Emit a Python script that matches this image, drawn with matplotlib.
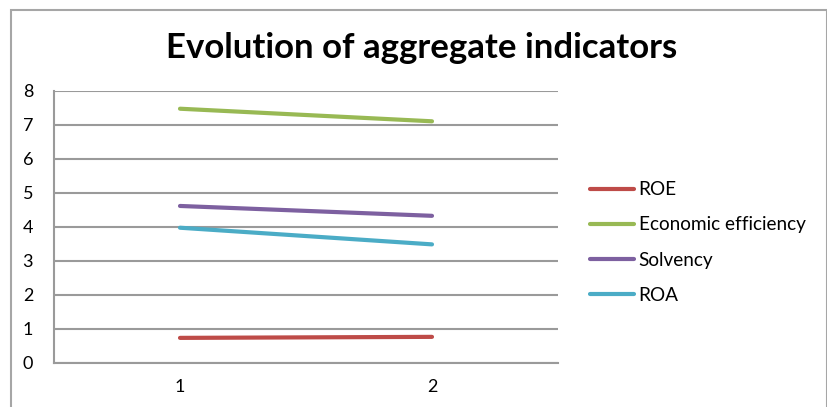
import matplotlib
matplotlib.use("Agg")
from matplotlib import pyplot as plt
from matplotlib.patches import Rectangle

# values
periods = [1, 2]
series_names = ["ROE", "Economic efficiency", "Solvency", "ROA"]
roe = [0.73, 0.76]
economic_efficiency = [7.47, 7.10]
solvency = [4.61, 4.32]
roa = [3.97, 3.48]
y_ticks = [0, 1, 2, 3, 4, 5, 6, 7, 8]

colors = ["#BE4B48", "#98B954", "#7D60A0", "#4BACC6"]

plt.rcParams['font.family'] = ['Lato', 'DejaVu Sans']

W, H = 828, 407
fig = plt.figure(figsize=(W / 100, H / 100), dpi=100)

# outer chart frame (bottom edge runs off the image)
fig.patches.append(Rectangle((11 / W, -0.05), (827 - 11) / W, (H - 10) / H + 0.05,
                             transform=fig.transFigure, fill=False,
                             edgecolor="#A6A6A6", linewidth=1.5))

# plot area in pixels: left 54, right 558, top 90.7, bottom 362.7
ax = fig.add_axes([54 / W, (H - 362.7) / H, (558 - 54) / W, (362.7 - 90.7) / H])

for vals, name, c in zip([roe, economic_efficiency, solvency, roa], series_names, colors):
    ax.plot(periods, vals, color=c, linewidth=3, solid_capstyle="round", label=name, zorder=3)

ax.set_xlim(0.5, 2.5)
ax.set_ylim(0, 8)
ax.set_yticks(y_ticks)
ax.set_xticks(periods)
ax.yaxis.grid(True, color="#9A9A9A", linewidth=1.5)
ax.set_axisbelow(True)
for side in ["top", "right"]:
    ax.spines[side].set_visible(False)
for side in ["left", "bottom"]:
    ax.spines[side].set_color("#9A9A9A")
    ax.spines[side].set_linewidth(1.5)
ax.tick_params(length=0, labelsize=13, colors="black")
ax.tick_params(axis="y", pad=15)
ax.tick_params(axis="x", pad=12)

fig.text(422 / W, 1 - 48 / H, "Evolution of aggregate indicators", ha="center", va="center",
         fontsize=25, fontweight="bold")

ax.legend(loc="center left", bbox_to_anchor=((573 - 54) / 504, 0.442),
          frameon=False, fontsize=13.7, handlelength=2.3, handletextpad=0.25,
          labelspacing=0.95)

fig.savefig("out.png", dpi=100)
